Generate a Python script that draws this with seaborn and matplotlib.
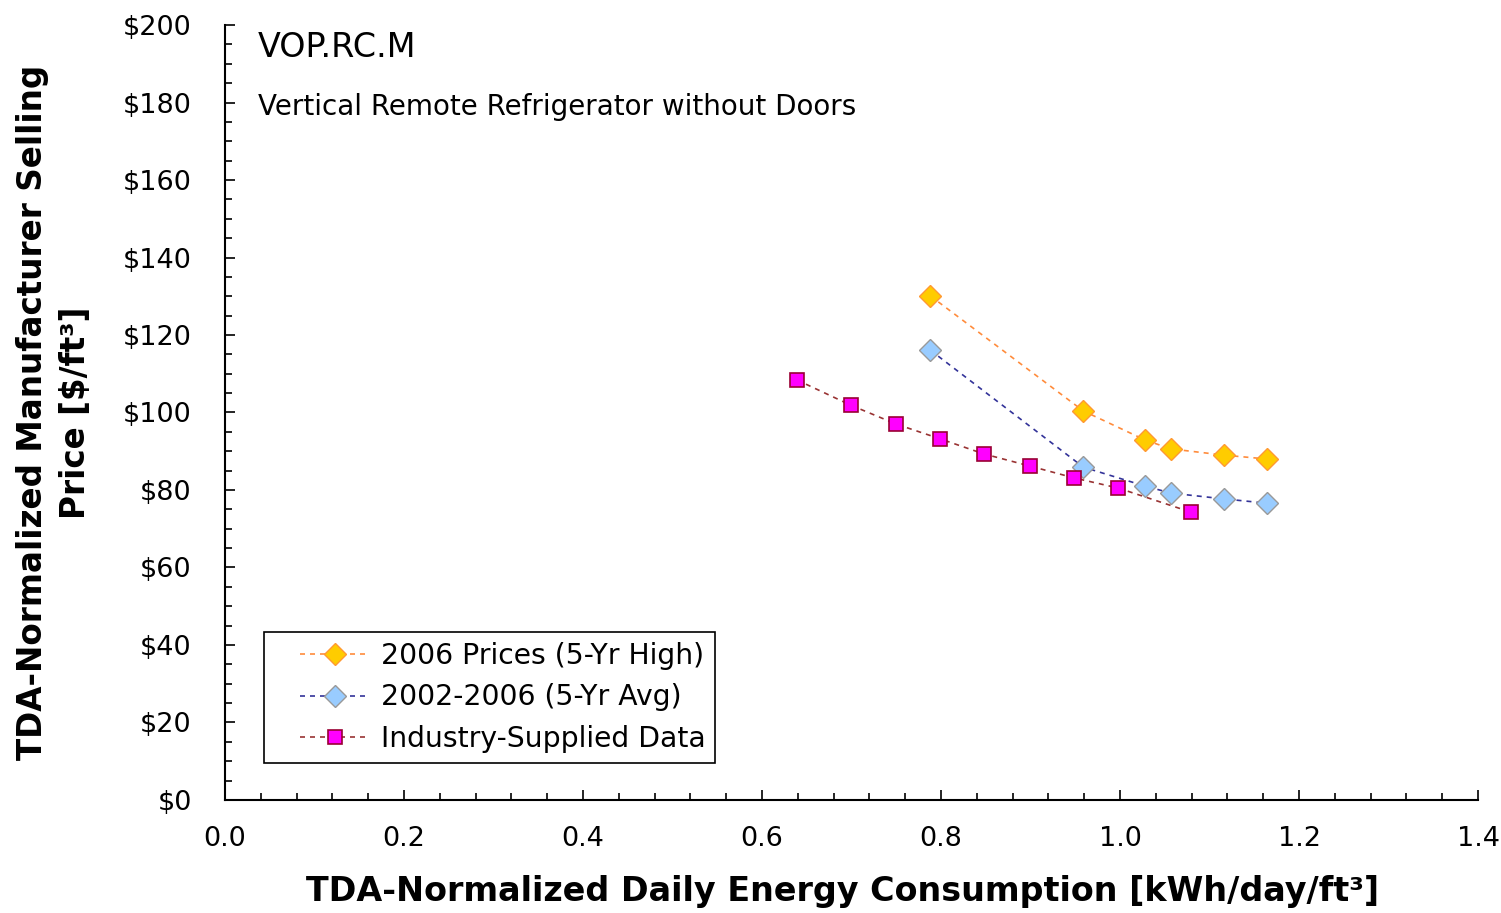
import matplotlib

matplotlib.use("Agg")
import matplotlib.pyplot as plt
import seaborn as sns
from matplotlib.legend_handler import HandlerLine2D
from matplotlib.lines import Line2D
from matplotlib.ticker import FuncFormatter, MultipleLocator

# data
high_x = [0.788, 0.959, 1.028, 1.057, 1.116, 1.164]
high_y = [130.1, 100.4, 92.9, 90.6, 89.0, 88.0]

avg_x = [0.788, 0.959, 1.028, 1.057, 1.116, 1.164]
avg_y = [116.1, 85.9, 81.0, 79.2, 77.7, 76.6]

ind_x = [0.639, 0.699, 0.750, 0.799, 0.848, 0.899, 0.949, 0.998, 1.079]
ind_y = [108.4, 101.9, 97.0, 93.2, 89.3, 86.2, 83.1, 80.5, 74.3]

labels = ["2006 Prices (5-Yr High)", "2002-2006 (5-Yr Avg)", "Industry-Supplied Data"]

sns.set_style("white")
plt.rcParams["font.family"] = ["DejaVu Sans"]
plt.rcParams.update({"text.color": "black", "axes.labelcolor": "black",
                     "xtick.color": "black", "ytick.color": "black"})

fig = plt.figure(figsize=(15.01, 9.13), dpi=100)
ax = fig.add_axes([0.1499, 0.1238, 0.8348, 0.8488])

dash = (0, (3, 3))
sns.lineplot(x=high_x, y=high_y, ax=ax, label=labels[0], color="#FF8C3C",
             linestyle=dash, linewidth=1.2, marker="D", markersize=11,
             markerfacecolor="#FFCC00", markeredgecolor="#FF9933", markeredgewidth=1)
sns.lineplot(x=avg_x, y=avg_y, ax=ax, label=labels[1], color="#333399",
             linestyle=dash, linewidth=1.2, marker="D", markersize=11,
             markerfacecolor="#99CCFF", markeredgecolor="#999999", markeredgewidth=1)
sns.lineplot(x=ind_x, y=ind_y, ax=ax, label=labels[2], color="#993333",
             linestyle=dash, linewidth=1.2, marker="s", markersize=10,
             markerfacecolor="#FF00FF", markeredgecolor="#990033", markeredgewidth=1.2)

ax.set_xlim(0, 1.4)
ax.set_ylim(0, 200)
ax.xaxis.set_major_locator(MultipleLocator(0.2))
ax.xaxis.set_minor_locator(MultipleLocator(0.04))
ax.yaxis.set_major_locator(MultipleLocator(20))
ax.yaxis.set_minor_locator(MultipleLocator(5))
ax.xaxis.set_major_formatter(FuncFormatter(lambda v, p: f"{v:.1f}"))
ax.yaxis.set_major_formatter(FuncFormatter(lambda v, p: f"\\${v:.0f}"))

for side in ["top", "right"]:
    ax.spines[side].set_visible(False)
for side in ["left", "bottom"]:
    ax.spines[side].set_color("black")
    ax.spines[side].set_linewidth(1.5)

ax.tick_params(axis="both", which="both", bottom=True, left=True,
               direction="in", width=1.2, color="black")
ax.tick_params(axis="both", which="major", length=7, labelsize=19.5)
ax.tick_params(axis="both", which="minor", length=5)
ax.tick_params(axis="x", which="major", pad=19)
ax.tick_params(axis="y", which="major", pad=24)

ax.set_xlabel("TDA-Normalized Daily Energy Consumption [kWh/day/ft³]",
              fontsize=24, fontweight="bold")
ax.xaxis.set_label_coords(0.4925, -0.097)
ax.set_ylabel("TDA-Normalized Manufacturer Selling\nPrice [\\$/ft³]",
              fontsize=23.5, fontweight="bold", labelpad=22, linespacing=1.4)

ax.text(0.026, 0.992, "VOP.RC.M", transform=ax.transAxes, fontsize=24,
        va="top", ha="left")
ax.text(0.026, 0.912, "Vertical Remote Refrigerator without Doors",
        transform=ax.transAxes, fontsize=20, va="top", ha="left")

# legend: dashes start a little in from the frame, as in the reference
leg = ax.legend(loc="lower left", bbox_to_anchor=(0.031, 0.048), fontsize=20.3,
                frameon=True, fancybox=False, edgecolor="black", framealpha=1,
                handlelength=3.4, handletextpad=0.4, borderpad=0.35,
                labelspacing=0.48, borderaxespad=0,
                handler_map={Line2D: HandlerLine2D(xpad=0.94)})
leg.get_frame().set_linewidth(1.2)

fig.savefig("out.png", dpi=100)
